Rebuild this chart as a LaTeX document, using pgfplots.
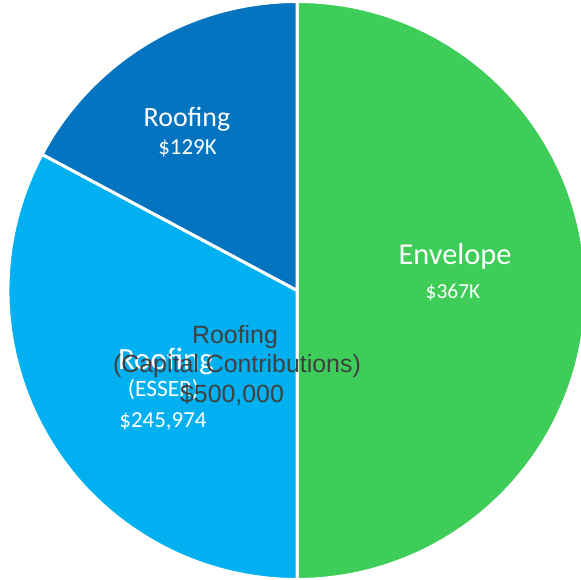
\documentclass[border=0pt]{standalone}
\usepackage{pgfplots}
\pgfplotsset{compat=1.18}
\usepackage{pgfplotstable}
\usepackage{fontspec}
\setmainfont{Carlito}
\newfontfamily\grayfont{Liberation Sans}

\definecolor{cgreen}{RGB}{61,205,88}
\definecolor{cdark}{RGB}{5,116,192}
\definecolor{clight}{RGB}{0,176,240}
\definecolor{cgray}{RGB}{64,64,64}

% shares of the circle (percent)
\pgfplotstableread[col sep=comma]{
label,share
Envelope,50.0
Roofing,17.2
RoofingESSER,32.8
}\piedata

\pgfplotstablegetelem{0}{share}\of\piedata \edef\shA{\pgfplotsretval}
\pgfplotstablegetelem{1}{share}\of\piedata \edef\shB{\pgfplotsretval}
\pgfplotstablegetelem{2}{share}\of\piedata \edef\shC{\pgfplotsretval}
\pgfmathsetmacro{\aAe}{90-3.6*\shA}
\pgfmathsetmacro{\aBe}{90+3.6*\shB}
\pgfmathsetmacro{\aCe}{\aBe+3.6*\shC}

\begin{document}
\begin{tikzpicture}
\begin{axis}[
  x=1bp, y=1bp,
  xmin=0, xmax=581, ymin=0, ymax=580,
  hide axis, clip=true,
]
% slices (center 297,289 ; radius 289)
\fill[cgreen, draw=white, line width=3bp]
  (axis cs:297,289) -- ++(90:289bp) arc[start angle=90, end angle=\aAe, radius=289bp] -- cycle;
\fill[cdark, draw=white, line width=3bp]
  (axis cs:297,289) -- ++(90:289bp) arc[start angle=90, end angle=\aBe, radius=289bp] -- cycle;
\fill[clight, draw=white, line width=3bp]
  (axis cs:297,289) -- ++(\aBe:289bp) arc[start angle=\aBe, end angle=\aCe, radius=289bp] -- cycle;

% slice labels
\node[text=white, inner sep=0, anchor=base, font=\fontsize{30.5}{30.5}\selectfont] at (axis cs:455,315) {Envelope};
\node[text=white, inner sep=0, anchor=base, font=\fontsize{21.5}{21.5}\selectfont] at (axis cs:453,281) {\$367K};

\node[text=white, inner sep=0, anchor=base, font=\fontsize{28}{28}\selectfont] at (axis cs:187,453.5) {Roofing};
\node[text=white, inner sep=0, anchor=base, font=\fontsize{23}{23}\selectfont] at (axis cs:187.5,425) {\$129K};

\node[text=white, inner sep=0, anchor=base, font=\fontsize{31}{31}\selectfont] at (axis cs:166,210) {Roofing};
\node[text=white, inner sep=0, anchor=base, font=\fontsize{23.5}{23.5}\selectfont] at (axis cs:163.5,183) {(ESSER)};
\node[text=white, inner sep=0, anchor=base, font=\fontsize{23}{23}\selectfont] at (axis cs:163,152) {\$245,974};

% overlaid gray label
\node[text=cgray, inner sep=0, anchor=base, font=\grayfont\fontsize{25}{25}\selectfont] at (axis cs:235,236) {Roofing};
\node[text=cgray, inner sep=0, anchor=base, font=\grayfont\fontsize{25}{25}\selectfont] at (axis cs:237,207) {(Capital Contributions)};
\node[text=cgray, inner sep=0, anchor=base, font=\grayfont\fontsize{25}{25}\selectfont] at (axis cs:232,177) {\$500,000};
\end{axis}
\end{tikzpicture}
\end{document}
